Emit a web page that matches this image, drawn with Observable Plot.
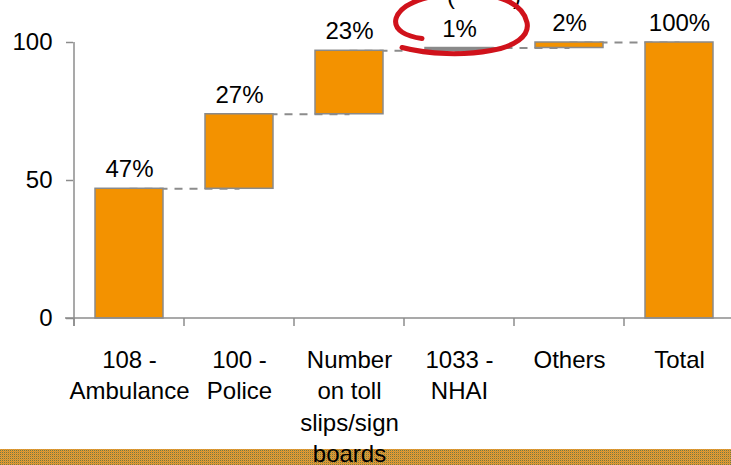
<!DOCTYPE html>
<html>
<head>
<meta charset="utf-8">
<script src="https://cdn.jsdelivr.net/npm/d3@7"></script>
<script src="https://cdn.jsdelivr.net/npm/@observablehq/plot@0.6"></script>
<style>
  html, body { margin: 0; padding: 0; background: #fff; }
  #chart { width: 731px; height: 465px; position: relative; overflow: hidden; }
</style>
</head>
<body>
<div id="chart"></div>
<script>
// Emergency contact channels used, share of respondents (%)
const categories = ["108 - Ambulance", "100 - Police", "Number on toll slips/sign boards", "1033 - NHAI", "Others", "Total"];
const tickLabels = ["108 -\nAmbulance", "100 -\nPolice", "Number\non toll\nslips/sign\nboards", "1033 -\nNHAI", "Others", "Total"];
const shares = [47, 27, 23, 1, 2, 100];
const totalFlags = [false, false, false, false, false, true];
const yTicks = [0, 50, 100];
const mutedCategory = "1033 - NHAI";

// Stack the steps of the waterfall; the total bar starts from zero
let running = 0;
const rows = categories.map((name, i) => {
  if (totalFlags[i]) return {name, start: 0, end: shares[i], share: shares[i]};
  const start = running;
  running += shares[i];
  return {name, start, end: running, share: shares[i]};
});
const connectors = rows.slice(0, -1).map((r, i) => ({from: r.name, to: rows[i + 1].name, level: r.end}));

const font = "'Liberation Sans', Arial, Helvetica, sans-serif";
const orange = "#F39200";
const grey = "#8a8a8a";
const axisGrey = "#8c8c8c";

const plot = Plot.plot({
  width: 731,
  height: 465,
  marginLeft: 73,
  marginRight: 0,
  marginTop: 42,
  marginBottom: 147,
  style: {fontFamily: font, background: "transparent", overflow: "visible", color: "#000"},
  x: {domain: categories, range: [73, 736], paddingInner: 0.38, paddingOuter: 0.19, label: null},
  y: {domain: [0, 100], label: null},
  marks: [
    Plot.axisY({ticks: yTicks, tickSize: 7, tickPadding: 14, fontSize: 24, stroke: axisGrey, strokeWidth: 1.5, label: null}),
    Plot.axisX({tickSize: 0, tickPadding: 27, fontSize: 24, lineHeight: 1.31,
      tickFormat: d => tickLabels[categories.indexOf(d)], label: null}),
    Plot.link(connectors, {x1: "from", x2: "to", y1: "level", y2: "level",
      stroke: axisGrey, strokeWidth: 2, strokeDasharray: "8,7"}),
    Plot.barY(rows, {x: "name", y1: "start", y2: "end",
      fill: d => d.name === mutedCategory ? grey : orange, stroke: grey, strokeWidth: 1.5}),
    Plot.text(rows, {x: "name", y: "end", text: d => d.share + "%", dy: -19,
      fontSize: 24, lineAnchor: "middle", fill: "#000"})
  ]
});

document.getElementById("chart").appendChild(plot);

// Axis lines, category dividers, footer band and the hand-drawn highlight
const svg = d3.select(plot);
const xs = plot.scale("x");
const ys = plot.scale("y");
const bw = xs.bandwidth;
const step = xs.apply(categories[1]) - xs.apply(categories[0]);
const y0 = ys.apply(0);
const yTop = ys.apply(100);
const xLeft = xs.apply(categories[0]) - (step - bw) / 2;

// patterned footer strip
const defs = svg.insert("defs", ":first-child");
const pat = defs.append("pattern").attr("id", "footerHatch")
  .attr("patternUnits", "userSpaceOnUse").attr("width", 2).attr("height", 2);
pat.append("rect").attr("width", 2).attr("height", 2).attr("fill", "#ec9a2e");
pat.append("rect").attr("x", 0).attr("y", 0).attr("width", 1).attr("height", 1).attr("fill", "#6f7a47");
pat.append("rect").attr("x", 1).attr("y", 1).attr("width", 1).attr("height", 1).attr("fill", "#c69439");
svg.insert("rect", "defs + *")
  .attr("x", 0).attr("y", 449).attr("width", 731).attr("height", 16)
  .attr("fill", "url(#footerHatch)");

const lines = svg.append("g").attr("stroke", axisGrey).attr("stroke-width", 1.5);
lines.append("line").attr("x1", xLeft - 9).attr("x2", 731).attr("y1", y0).attr("y2", y0);
lines.append("line").attr("x1", xLeft).attr("x2", xLeft).attr("y1", yTop).attr("y2", y0 + 8);
categories.forEach((c, i) => {
  const bx = xs.apply(c) - (step - bw) / 2;
  lines.append("line").attr("x1", bx).attr("x2", bx).attr("y1", y0).attr("y2", y0 + 8);
});

// highlight loop around the 1033 - NHAI label
const cx = xs.apply(mutedCategory) + bw / 2;
const cy = ys.apply(rows[3].end) - 19;
const ann = svg.append("g").attr("transform", `translate(${cx},${cy})`);
ann.append("text").attr("x", -8).attr("y", -25).attr("font-size", 24).attr("font-family", font).attr("text-anchor", "middle").text("(");
ann.append("text").attr("x", 58).attr("y", -25).attr("font-size", 24).attr("font-family", font).attr("text-anchor", "middle").text(")");
ann.append("path")
  .attr("d", "M -37,10 C -52,8 -66,2 -63,-10 C -58,-26 -30,-34 0,-35 C 38,-36 64,-26 68,-6 C 71,8 55,18 32,22 C 5,27 -30,26 -57,19")
  .attr("fill", "none").attr("stroke", "#d0121b").attr("stroke-width", 5).attr("stroke-linecap", "round");
</script>
</body>
</html>
